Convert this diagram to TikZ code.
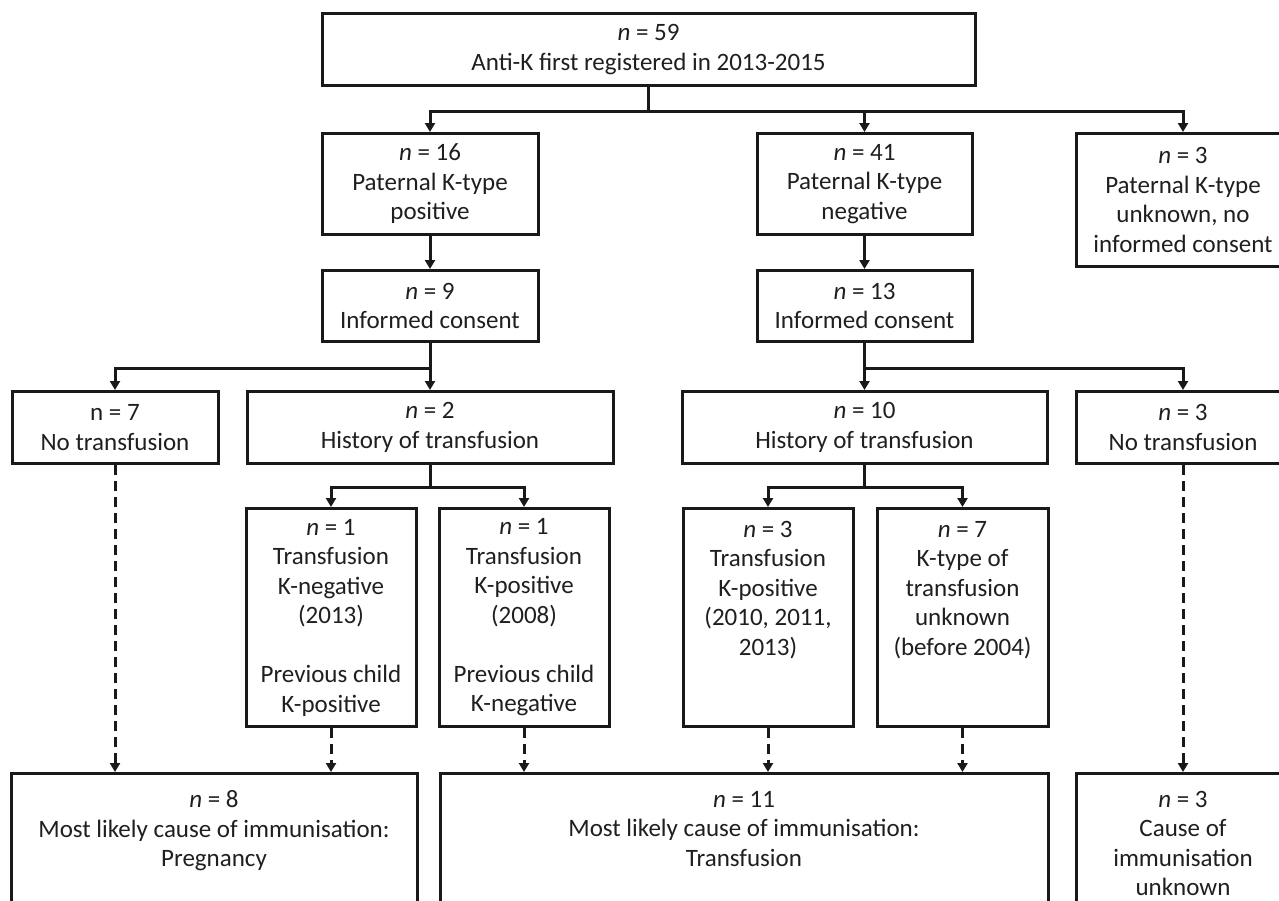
\documentclass[tikz,border=0pt]{standalone}
\usepackage{fontspec}
\setmainfont{Carlito}
\usetikzlibrary{arrows.meta}
\newcommand\nn{\textit{n}}
\begin{document}
\begin{tikzpicture}[x=1pt,y=-1pt,
  fbox/.style={draw=black!90, line width=3pt, rectangle, align=center, anchor=north,
    inner sep=0pt, font=\fontsize{25}{29.5}\selectfont, text=black!88},
  conn/.style={draw=black!90, line width=3pt, -{Triangle[width=10pt,length=9pt]}},
  dconn/.style={draw=black!90, line width=3pt, dash pattern=on 10pt off 6pt, -{Triangle[width=10pt,length=9pt]}}]
\useasboundingbox (0,0) rectangle (1279,900);
\clip (0,0) rectangle (1279,900);
% row 1
\node[fbox, minimum width=653, minimum height=72] (top) at (648.5,12) {\nn{} = 59\\Anti-K first registered in 2013-2015};
% row 2
\node[fbox, minimum width=216, minimum height=101] (p16) at (430,132) {\nn{} = 16\\Paternal K-type\\positive};
\node[fbox, minimum width=215, minimum height=101] (p41) at (864.5,132) {\nn{} = 41\\Paternal K-type\\negative};
\node[fbox, minimum width=214, minimum height=133] (p3) at (1183,132) {\nn{} = 3\\Paternal K-type\\unknown, no\\informed consent};
% row 3
\node[fbox, minimum width=216, minimum height=71] (c9) at (430,269) {\nn{} = 9\\Informed consent};
\node[fbox, minimum width=215, minimum height=71] (c13) at (864.5,269) {\nn{} = 13\\Informed consent};
% row 4
\node[fbox, minimum width=206, minimum height=72] (t7) at (115,390) {n = 7\\No transfusion};
\node[fbox, minimum width=366, minimum height=72] (h2) at (430,390) {\nn{} = 2\\History of transfusion};
\node[fbox, minimum width=365, minimum height=72] (h10) at (864.5,390) {\nn{} = 10\\History of transfusion};
\node[fbox, minimum width=214, minimum height=72] (nt3) at (1183,390) {\nn{} = 3\\No transfusion};
% row 5
\node[fbox, minimum width=170, minimum height=218] (a1) at (331,507) {\nn{} = 1\\Transfusion\\K-negative\\(2013)\\[29.5pt]Previous child\\K-positive};
\node[fbox, minimum width=170, minimum height=218] (a2) at (524,507) {\nn{} = 1\\Transfusion\\K-positive\\(2008)\\[29.5pt]Previous child\\K-negative};
\node[fbox, minimum width=170, minimum height=218] (b1) at (768,507) {\nn{} = 3\\Transfusion\\K-positive\\(2010, 2011,\\2013)\\~\\~};
\node[fbox, minimum width=171, minimum height=218] (b2) at (962.5,507) {\nn{} = 7\\K-type of\\transfusion\\unknown\\(before 2004)\\~\\~};
% row 6
\node[fbox, minimum width=406, minimum height=140] (ra) at (214,772) {\nn{} = 8\\Most likely cause of immunisation:\\Pregnancy\\~};
\node[fbox, minimum width=608, minimum height=140] (rb) at (744,772) {\nn{} = 11\\Most likely cause of immunisation:\\Transfusion\\~};
\node[fbox, minimum width=214, minimum height=140] (rc) at (1183,772) {\nn{} = 3\\Cause of\\immunisation\\unknown};
% connectors
\draw[conn] (top.south) -- ++(0,24) -| (p16.north);
\draw[conn] (top.south) -- ++(0,24) -| (p41.north);
\draw[conn] (top.south) -- ++(0,24) -| (p3.north);
\draw[conn] (p16.south) -- (c9.north);
\draw[conn] (p41.south) -- (c13.north);
\draw[conn] (c9.south) -- ++(0,25) -| (t7.north);
\draw[conn] (c9.south) -- (h2.north);
\draw[conn] (c13.south) -- (h10.north);
\draw[conn] (c13.south) -- ++(0,25) -| (nt3.north);
\draw[conn] (h2.south) -- ++(0,22) -| (a1.north);
\draw[conn] (h2.south) -- ++(0,22) -| (a2.north);
\draw[conn] (h10.south) -- ++(0,22) -| (b1.north);
\draw[conn] (h10.south) -- ++(0,22) -| (b2.north);
\draw[dconn] (t7.south) -- (t7.south |- ra.north);
\draw[dconn] (a1.south) -- (a1.south |- ra.north);
\draw[dconn] (a2.south) -- (a2.south |- rb.north);
\draw[dconn] (b1.south) -- (b1.south |- rb.north);
\draw[dconn] (b2.south) -- (b2.south |- rb.north);
\draw[dconn] (nt3.south) -- (nt3.south |- rc.north);
\end{tikzpicture}
\end{document}
